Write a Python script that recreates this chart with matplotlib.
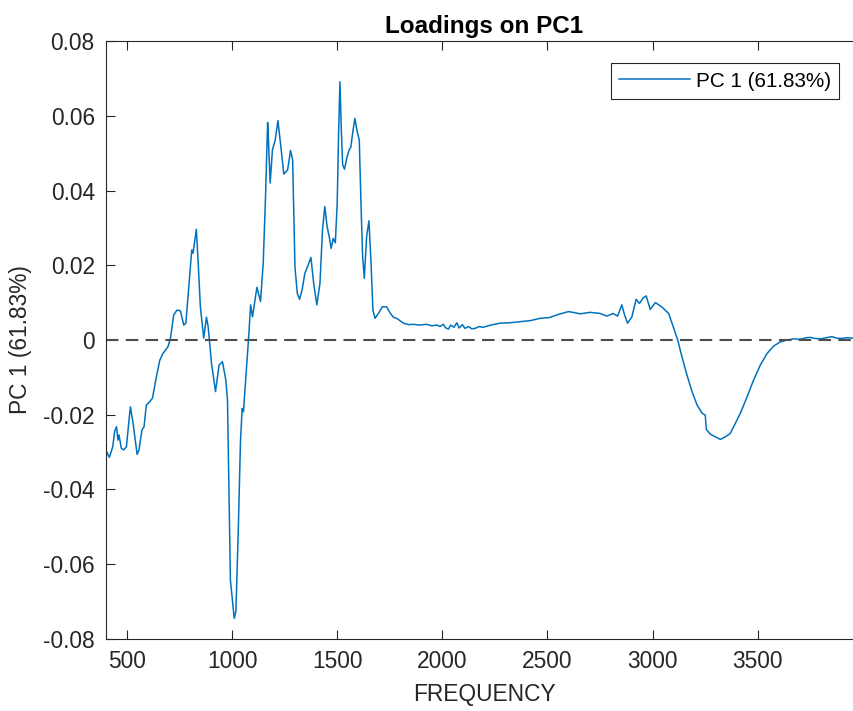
import numpy as np
import matplotlib
matplotlib.use("Agg")
from matplotlib import pyplot as plt

plt.rcParams['font.family'] = ['Liberation Sans', 'DejaVu Sans']

# loadings, frequency vs PC1 loading
freq = [403, 416, 432, 441, 450, 457, 462, 473, 484, 497, 516, 529, 548, 557, 571,
        581, 592, 608, 621, 640, 656, 671, 695, 707, 722, 738, 754, 770, 780, 796,
        808, 814, 830, 838, 849, 865, 878, 886, 902, 921, 938, 954, 970, 978, 986,
        992, 1000, 1010, 1018, 1029, 1040, 1048, 1054, 1069, 1080, 1088, 1097, 1118, 1135, 1148,
        1159, 1169, 1171, 1181, 1192, 1205, 1218, 1232, 1246, 1264, 1278, 1288, 1299, 1310, 1321,
        1333, 1346, 1362, 1375, 1388, 1403, 1418, 1430, 1441, 1452, 1462, 1471, 1481, 1491, 1500,
        1507, 1513, 1519, 1526, 1535, 1545, 1557, 1565, 1571, 1584, 1595, 1605, 1613, 1621, 1629,
        1640, 1651, 1661, 1670, 1680, 1696, 1715, 1735, 1751, 1767, 1783, 1815, 1840, 1862, 1890,
        1926, 1950, 1975, 1989, 2005, 2015, 2029, 2040, 2055, 2069, 2080, 2095, 2108, 2125, 2140,
        2156, 2175, 2195, 2211, 2240, 2275, 2320, 2370, 2420, 2465, 2510, 2544, 2575, 2600, 2630,
        2656, 2703, 2751, 2783, 2812, 2834, 2854, 2865, 2881, 2902, 2922, 2938, 2955, 2970, 2989,
        3014, 3045, 3077, 3101, 3120, 3140, 3164, 3188, 3212, 3236, 3251, 3256, 3275, 3299, 3323,
        3347, 3370, 3394, 3418, 3450, 3481, 3513, 3545, 3577, 3608, 3640, 3672, 3704, 3730, 3751,
        3775, 3799, 3825, 3854, 3875, 3894, 3925, 3957, 3997]
pc1 = [-0.0299, -0.0314, -0.0286, -0.0245, -0.0232, -0.0268, -0.0254, -0.0290, -0.0294, -0.0286,
       -0.0179, -0.0223, -0.0306, -0.0294, -0.0241, -0.0232, -0.0174, -0.0165, -0.0156, -0.0098,
       -0.0054, -0.0036, -0.0018, 0.0005, 0.0067, 0.0080, 0.0078, 0.0040, 0.0045, 0.0156,
       0.0241, 0.0232, 0.0296, 0.0214, 0.0089, 0.0005, 0.0061, 0.0036, -0.0062, -0.0138,
       -0.0067, -0.0058, -0.0107, -0.0160, -0.0428, -0.0643, -0.0687, -0.0745, -0.0727, -0.0517,
       -0.0268, -0.0183, -0.0192, -0.0071, 0.0018, 0.0094, 0.0062, 0.0141, 0.0103, 0.0205,
       0.0384, 0.0582, 0.0562, 0.0420, 0.0509, 0.0535, 0.0587, 0.0517, 0.0444, 0.0455,
       0.0507, 0.0482, 0.0196, 0.0125, 0.0109, 0.0134, 0.0178, 0.0201, 0.0221, 0.0152,
       0.0094, 0.0152, 0.0294, 0.0357, 0.0303, 0.0277, 0.0245, 0.0272, 0.0260, 0.0366,
       0.0562, 0.0691, 0.0571, 0.0468, 0.0457, 0.0486, 0.0509, 0.0516, 0.0544, 0.0593,
       0.0558, 0.0535, 0.0366, 0.0223, 0.0165, 0.0277, 0.0319, 0.0205, 0.0080, 0.0058,
       0.0071, 0.0089, 0.0089, 0.0073, 0.0061, 0.0058, 0.0045, 0.0041, 0.0042, 0.0040,
       0.0042, 0.0038, 0.0040, 0.0036, 0.0042, 0.0033, 0.0029, 0.0040, 0.0034, 0.0046,
       0.0032, 0.0041, 0.0031, 0.0036, 0.0030, 0.0031, 0.0036, 0.0034, 0.0037, 0.0041,
       0.0045, 0.0046, 0.0049, 0.0052, 0.0058, 0.0060, 0.0067, 0.0072, 0.0076, 0.0073,
       0.0070, 0.0074, 0.0071, 0.0064, 0.0071, 0.0064, 0.0094, 0.0071, 0.0045, 0.0062,
       0.0109, 0.0098, 0.0112, 0.0118, 0.0082, 0.0100, 0.0088, 0.0071, 0.0031, 0.0000,
       -0.0045, -0.0094, -0.0138, -0.0174, -0.0196, -0.0201, -0.0239, -0.0252, -0.0259, -0.0266,
       -0.0259, -0.0250, -0.0223, -0.0196, -0.0152, -0.0107, -0.0067, -0.0036, -0.0016, -0.0005,
       0.0000, 0.0003, 0.0002, 0.0006, 0.0007, 0.0004, 0.0003, 0.0006, 0.0009, 0.0005,
       0.0004, 0.0006, 0.0005, 0.0005]

label = 'PC 1 (61.83%)'
dark = '#262626'

fig = plt.figure(figsize=(8.54, 7.11), dpi=100)
ax = fig.add_axes([0.1241, 0.1013, 0.8861, 0.8410])

ax.plot(freq, pc1, color='#0072BD', linewidth=1.1, label=label)
ax.axhline(0, color='#4d4d4d', linestyle='--', linewidth=1.5, dashes=(6, 3.5))

ax.set_xlim(400, 4000)
ax.set_ylim(-0.08, 0.08)
ax.set_xticks([500, 1000, 1500, 2000, 2500, 3000, 3500])
ax.set_yticks(np.arange(-0.08, 0.081, 0.02))
ax.set_yticklabels(['-0.08', '-0.06', '-0.04', '-0.02', '0', '0.02', '0.04', '0.06', '0.08'])

ax.tick_params(direction='in', length=6.5, width=0.8, colors=dark, labelsize=16.4,
               top=True, right=True, pad=8)
for s in ax.spines.values():
    s.set_color(dark)
    s.set_linewidth(0.8)

ax.set_xlabel('FREQUENCY', fontsize=16.4, color=dark, labelpad=7)
ax.set_ylabel(label, fontsize=16.4, color=dark, labelpad=8)
ax.set_title('Loadings on PC1', fontsize=17.5, fontweight='bold', pad=6)

leg = ax.legend(loc='upper right', bbox_to_anchor=(839.3 / 854, 1 - 63.3 / 711),
                bbox_transform=fig.transFigure, borderaxespad=0, fancybox=False,
                fontsize=14.9, handlelength=3.4, handletextpad=0.3, borderpad=0.4,
                framealpha=1)
leg.get_frame().set_edgecolor(dark)
leg.get_frame().set_linewidth(0.8)

fig.savefig('out.png', dpi=100)
